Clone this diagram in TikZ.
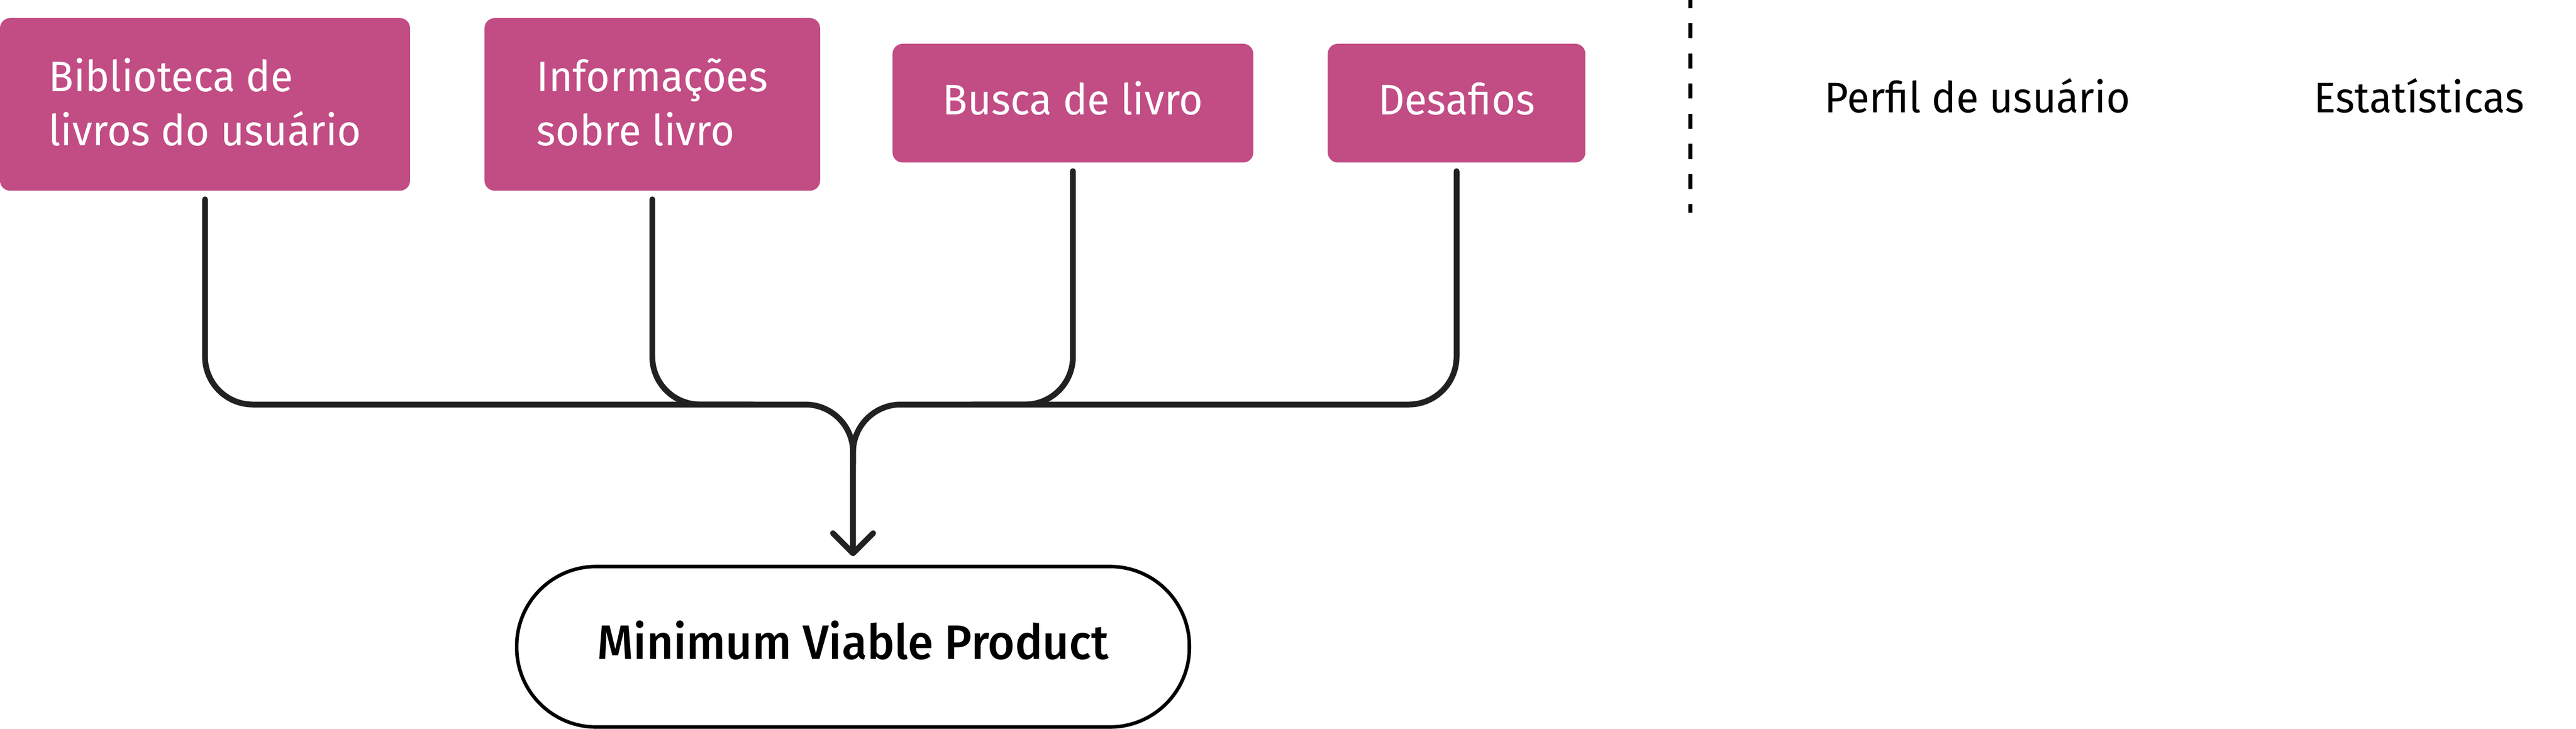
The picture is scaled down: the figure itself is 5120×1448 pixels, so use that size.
\documentclass[tikz,border=0pt]{standalone}
\usepackage{fontspec}
\setmainfont[FakeStretch=0.96]{Fira Sans}
\newfontfamily\medfont[FakeStretch=0.955]{Fira Sans Medium}
\usetikzlibrary{arrows.meta}
\definecolor{boxpink}{HTML}{C24C84}
\definecolor{linegray}{HTML}{212121}
\tikzset{
  x=1pt, y=-1pt,
  featbox/.style={fill=boxpink, rounded corners=20pt, text=white, inner ysep=0pt,
    font=\fontsize{85pt}{108pt}\selectfont},
  twoline/.style={featbox, align=left, inner xsep=0pt, text height=165pt},
  oneline/.style={featbox, inner xsep=0pt, text height=60pt, text depth=14pt},
  plainlabel/.style={inner sep=0pt, anchor=base, text=black,
    font=\fontsize{85pt}{108pt}\selectfont},
  mvpbox/.style={draw=black, line width=7pt, rounded corners=158pt, fill=white,
    minimum width=1337pt, minimum height=319pt, inner sep=0pt,
    text height=70pt, text depth=20pt,
    font=\medfont\fontsize{96pt}{110pt}\selectfont},
  conn/.style={draw=linegray, line width=11.5pt, line cap=round, line join=round,
    rounded corners=95pt},
  divider/.style={draw=black, line width=8pt, dash pattern=on 30pt off 30pt, dash phase=14pt}
}
\begin{document}
\begin{tikzpicture}
\useasboundingbox (0,0) rectangle (5120,1448);

\node[twoline, minimum width=815pt, minimum height=343pt] (b1) at (407.5,207.5)
  {Biblioteca de\\livros do usuário};
\node[twoline, minimum width=667pt, minimum height=343pt] (b2) at (1296.5,207.5)
  {Informações\\sobre livro};
\node[oneline, minimum width=717pt, minimum height=236pt] (b3) at (2132.5,205)
  {Busca de livro};
\node[oneline, minimum width=512pt, minimum height=236pt] (b4) at (2895,205)
  {Desafios};

\node[plainlabel] (perfil) at (3930,224) {Perfil de usuário};
\node[plainlabel] (estat) at (4808,224) {Estatísticas};

\coordinate (dtop) at (3360,0);
\coordinate (dbot) at (3360,423);
\draw[divider] (dtop) -- (dbot);

\node[mvpbox] (mvp) at (1695.5,1285.5) {Minimum Viable Product};

\coordinate (bus) at (0,804);

\draw[conn] ([yshift=-17pt]b2.south) -- (b2.south |- bus) -- ([xshift=200pt]b2.south |- bus);
\draw[conn] ([yshift=-17pt]b3.south) -- (b3.south |- bus) -- ([xshift=-200pt]b3.south |- bus);
\draw[conn] ([yshift=-17pt]b4.south) -- (b4.south |- bus) -- (bus -| mvp.north) -- ([yshift=200pt]mvp.north);
\draw[conn, -{Straight Barb[length=40pt, width=80pt, round]}, shorten >=17pt]
  ([yshift=-17pt]b1.south) -- (b1.south |- bus) -- (bus -| mvp.north) -- (mvp.north);
\end{tikzpicture}
\end{document}
